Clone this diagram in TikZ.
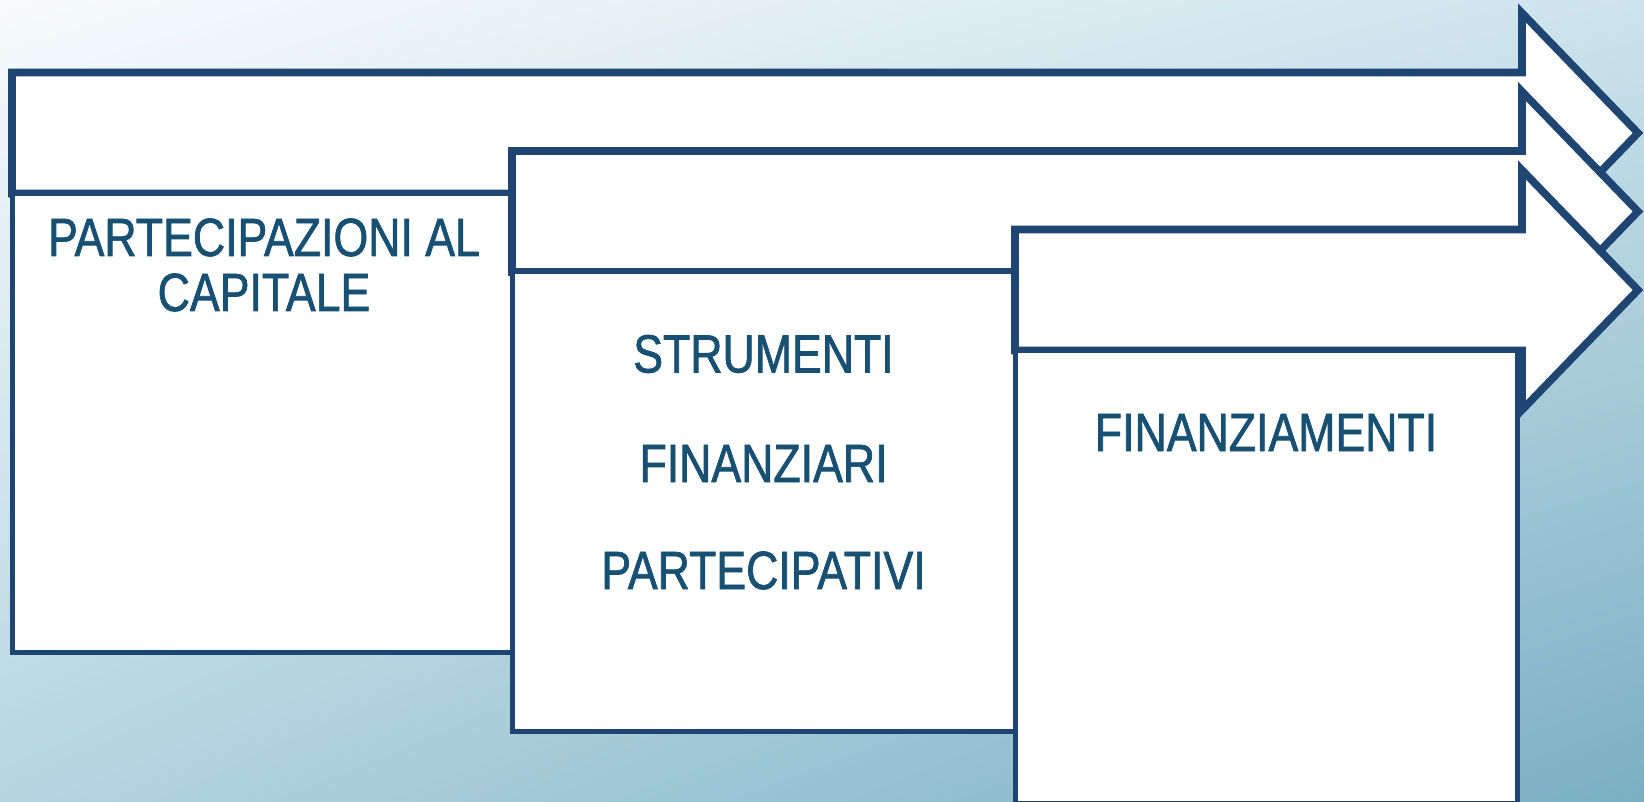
\documentclass[tikz,border=0pt]{standalone}
\usepackage{fontspec}
\usetikzlibrary{shadings}
\setmainfont{Liberation Sans}[FakeStretch=0.83,FakeBold=1.3]
\definecolor{navy}{RGB}{31,69,115}
\definecolor{txt}{RGB}{23,80,115}
\definecolor{bgul}{RGB}{248,251,253}
\definecolor{bgur}{RGB}{205,227,236}
\definecolor{bgll}{RGB}{180,213,225}
\definecolor{bglr}{RGB}{122,175,195}
\begin{document}
\begin{tikzpicture}[x=0.5pt,y=-0.5pt,
  arrowshape/.style={draw=navy, fill=white, line width=3.8pt},
  boxshape/.style={draw=navy, fill=white, line width=2.5pt},
  lbl/.style={text=txt, anchor=base, font=\fontsize{26.9}{30}\selectfont, inner sep=0pt}]
\useasboundingbox (0,0) rectangle (1644,802);
\shade[upper left=bgul, upper right=bgur, lower left=bgll, lower right=bglr] (0,0) rectangle (1644,802);
% item 1
\draw[arrowshape] (12,72.5) -- (1522,72.5) -- (1522,13) -- (1638,133) -- (1522,253) -- (1522,193.5) -- (12,193.5) -- cycle;
\draw[boxshape] (12,193.5) rectangle (514,652);
% item 2
\draw[arrowshape] (512,151) -- (1522,151) -- (1522,91.5) -- (1638,211.5) -- (1522,331.5) -- (1522,272) -- (512,272) -- cycle;
\draw[boxshape] (512,272) rectangle (1015,731);
% item 3
\draw[arrowshape] (1015,229.5) -- (1522,229.5) -- (1522,170) -- (1638,290) -- (1522,410) -- (1522,350.5) -- (1015,350.5) -- cycle;
\draw[boxshape] (1015,350.5) rectangle (1517,803);
% labels
\node[lbl] (t1a) at (264,256) {PARTECIPAZIONI AL};
\node[lbl] (t1b) at (264,311) {CAPITALE};
\node[lbl] (t2a) at (763.5,372.5) {STRUMENTI};
\node[lbl] (t2b) at (763.5,482) {FINANZIARI};
\node[lbl] (t2c) at (763.5,589) {PARTECIPATIVI};
\node[lbl] (t3) at (1266,451) {FINANZIAMENTI};
\end{tikzpicture}
\end{document}
